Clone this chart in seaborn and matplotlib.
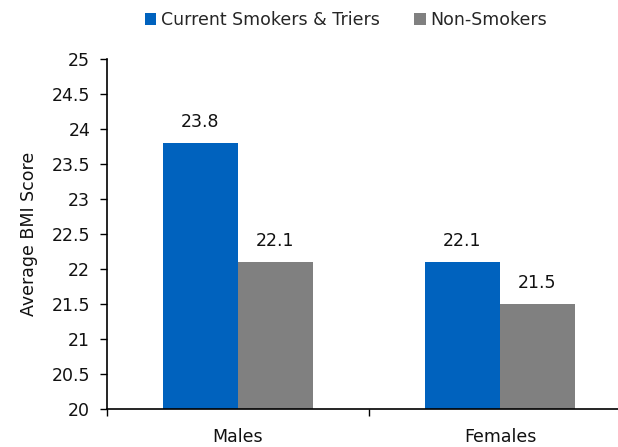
import matplotlib
matplotlib.use("Agg")
import matplotlib.pyplot as plt
import seaborn as sns
import pandas as pd
from matplotlib.ticker import FixedLocator

groups = ["Males", "Females"]
series = ["Current Smokers & Triers", "Non-Smokers"]
smokers = [23.8, 22.1]
non_smokers = [22.1, 21.5]
y_ticks = [20, 20.5, 21, 21.5, 22, 22.5, 23, 23.5, 24, 24.5, 25]
y_tick_labels = ["20", "20.5", "21", "21.5", "22", "22.5", "23", "23.5", "24", "24.5", "25"]

colors = ["#0062BE", "#808080"]

df = pd.DataFrame({
    "group": groups * 2,
    "series": [series[0]] * 2 + [series[1]] * 2,
    "value": smokers + non_smokers,
})

sns.set_style("white")
plt.rcParams["font.family"] = ["DejaVu Sans"]

FS = 12.5
TXT = "#111111"

fig = plt.figure(figsize=(6.18, 4.47), dpi=100)
ax = fig.add_axes([0.173, 0.085, 0.848, 0.783])

sns.barplot(data=df, x="group", y="value", hue="series", order=groups,
            hue_order=series, palette=colors, width=0.573, saturation=1,
            ax=ax, edgecolor="none", legend=True)

ax.set_ylim(20, 25)
ax.set_xlim(-0.5, 1.5)
ax.set_yticks(y_ticks)
ax.set_yticklabels(y_tick_labels, fontsize=FS, color=TXT)
ax.tick_params(axis="y", which="major", direction="out", length=5, width=1,
               color="black", left=True, pad=7)
ax.tick_params(axis="x", which="major", length=0, labelsize=FS, pad=14,
               labelcolor=TXT)
ax.xaxis.set_minor_locator(FixedLocator([-0.5, 0.5, 1.5]))
ax.tick_params(axis="x", which="minor", direction="out", length=5, width=1,
               color="black", bottom=True)

for side in ["top", "right"]:
    ax.spines[side].set_visible(False)
for side in ["left", "bottom"]:
    ax.spines[side].set_color("black")
    ax.spines[side].set_linewidth(1.2)

ax.set_xlabel("")
ax.set_ylabel("Average BMI Score", fontsize=FS, color=TXT, labelpad=10)

for container in ax.containers:
    ax.bar_label(container, fmt="%.1f", padding=9, fontsize=FS, color=TXT)

handles, labels = ax.get_legend_handles_labels()
ax.legend(handles, labels, loc="center", bbox_to_anchor=(346 / 618, 1 - 20 / 447),
          bbox_transform=fig.transFigure, ncol=2, frameon=False, fontsize=FS,
          handlelength=0.65, handleheight=0.65, handletextpad=0.25, columnspacing=2.0)

fig.savefig("out.png", dpi=100)
